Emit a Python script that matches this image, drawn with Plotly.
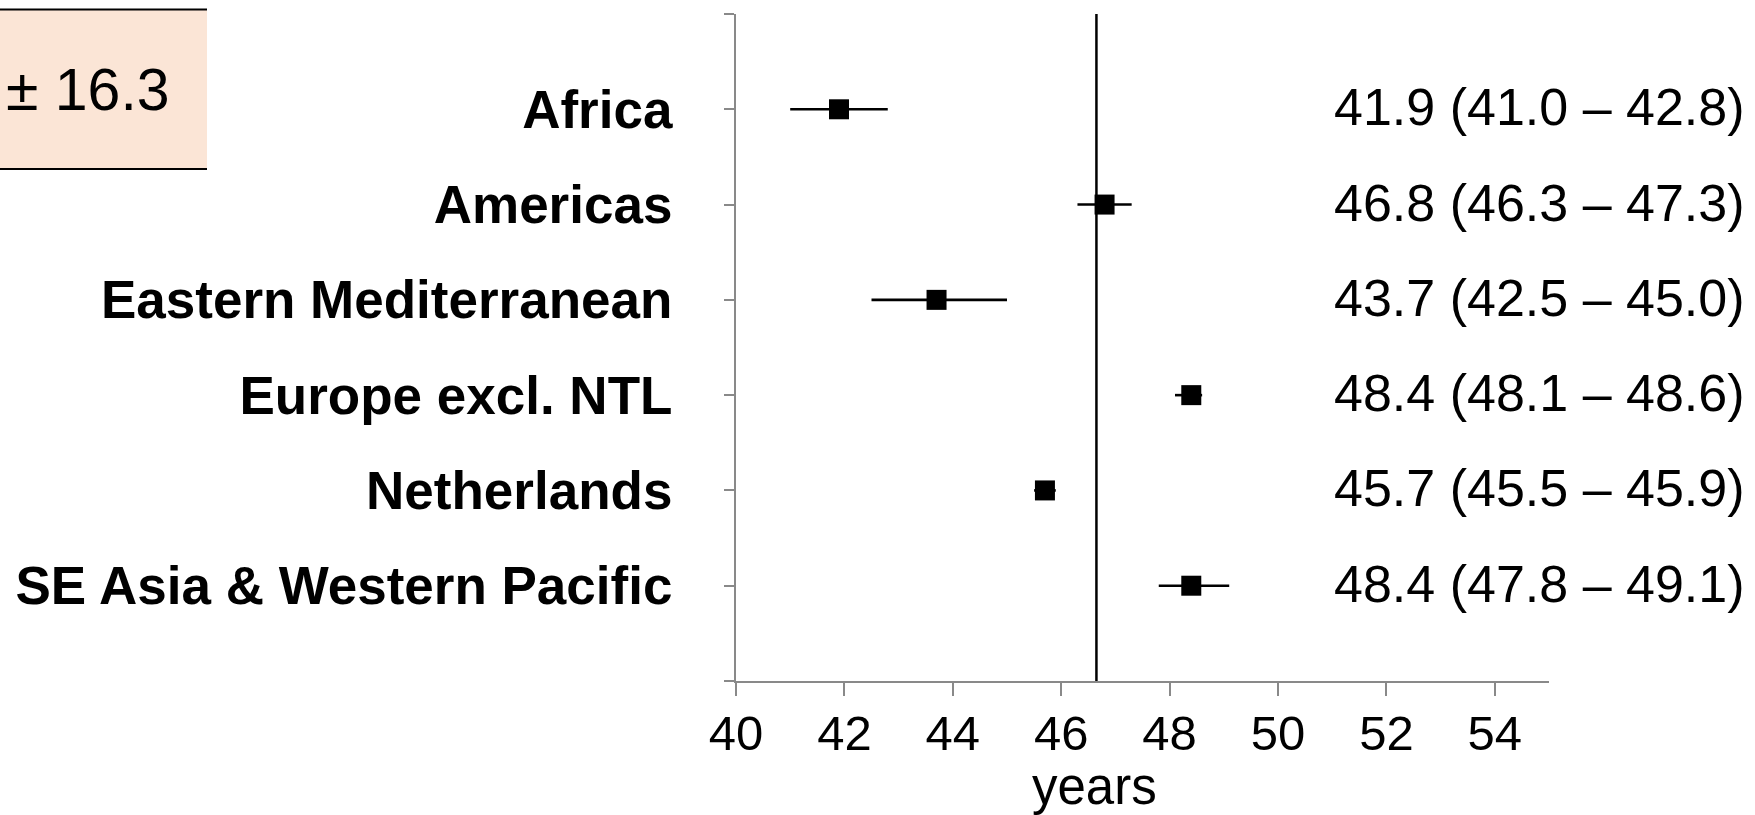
import plotly.graph_objects as go

# Mean age per WHO region with 95% confidence interval
regions = [
    "Africa",
    "Americas",
    "Eastern Mediterranean",
    "Europe excl. NTL",
    "Netherlands",
    "SE Asia & Western Pacific",
]
mean_age = [41.9, 46.8, 43.7, 48.4, 45.7, 48.4]
ci_low = [41.0, 46.3, 42.5, 48.1, 45.5, 47.8]
ci_high = [42.8, 47.3, 45.0, 48.6, 45.9, 49.1]
overall_mean = 46.65
sd_label = "± 16.3"
x_ticks = [40, 42, 44, 46, 48, 50, 52, 54]

W, H = 1755, 815
L, R, T, B = 736, 206, 14, 134
FONT = "Liberation Sans, Arial, sans-serif"
AXIS_GRAY = "#898989"


def px_x(p):
    return (p - L) / (W - L - R)


def px_y(p):
    return (H - B - p) / (H - T - B)


ypos = list(range(1, len(regions) + 1))
err_plus = [round(h - m, 2) for h, m in zip(ci_high, mean_age)]
err_minus = [round(m - l, 2) for m, l in zip(mean_age, ci_low)]

fig = go.Figure()
fig.add_trace(
    go.Scatter(
        x=mean_age,
        y=ypos,
        mode="markers",
        marker=dict(symbol="square", size=20, color="black"),
        error_x=dict(
            type="data",
            symmetric=False,
            array=err_plus,
            arrayminus=err_minus,
            color="black",
            thickness=2.6,
            width=0,
        ),
        cliponaxis=False,
        showlegend=False,
    )
)

# overall mean reference line
fig.add_shape(
    type="line",
    xref="x",
    yref="y",
    x0=overall_mean,
    x1=overall_mean,
    y0=0,
    y1=len(regions) + 1,
    line=dict(color="black", width=2.5),
    layer="below",
)

# value / CI labels on the right
for y, m, lo, hi in zip(ypos, mean_age, ci_low, ci_high):
    fig.add_annotation(
        text=f"{m:.1f} ({lo:.1f} – {hi:.1f})",
        xref="paper",
        yref="y",
        x=px_x(1747),
        y=y,
        yshift=2,
        xanchor="right",
        yanchor="middle",
        showarrow=False,
        font=dict(family=FONT, size=52, color="black"),
    )

# SD box in the upper left
fig.add_shape(
    type="rect",
    xref="paper",
    yref="paper",
    x0=px_x(-5),
    x1=px_x(207),
    y0=px_y(169),
    y1=px_y(9),
    fillcolor="#FBE5D6",
    line=dict(width=0),
    layer="below",
)
for yy in (9.5, 169):
    fig.add_shape(
        type="line",
        xref="paper",
        yref="paper",
        x0=px_x(-5),
        x1=px_x(207),
        y0=px_y(yy),
        y1=px_y(yy),
        line=dict(color="black", width=2),
    )
fig.add_annotation(
    text=sd_label,
    xref="paper",
    yref="paper",
    x=px_x(4),
    y=px_y(90),
    xanchor="left",
    yanchor="middle",
    showarrow=False,
    font=dict(family=FONT, size=59, color="black"),
)

# x-axis title
fig.add_annotation(
    text="years",
    xref="paper",
    yref="paper",
    x=px_x(1094),
    y=px_y(786),
    xanchor="center",
    yanchor="middle",
    showarrow=False,
    font=dict(family=FONT, size=51, color="black"),
)

fig.update_xaxes(
    range=[40, 55],
    tickvals=x_ticks,
    showline=True,
    linecolor=AXIS_GRAY,
    linewidth=2,
    ticks="outside",
    ticklen=13,
    tickwidth=1.5,
    tickcolor=AXIS_GRAY,
    showgrid=False,
    zeroline=False,
    tickfont=dict(family=FONT, size=49, color="black"),
    ticklabelstandoff=-5,
)
fig.update_yaxes(
    range=[len(regions) + 1, 0],
    tickvals=list(range(0, len(regions) + 2)),
    ticktext=[""] + [f"<b>{r}</b>" for r in regions] + [""],
    showline=True,
    linecolor=AXIS_GRAY,
    linewidth=2,
    ticks="outside",
    ticklen=10,
    tickwidth=1.5,
    tickcolor=AXIS_GRAY,
    showgrid=False,
    zeroline=False,
    tickfont=dict(family=FONT, size=53, color="black"),
    ticklabelstandoff=41,
)

fig.update_layout(
    width=W,
    height=H,
    margin=dict(l=L, r=R, t=T, b=B, autoexpand=False),
    paper_bgcolor="white",
    plot_bgcolor="white",
    font=dict(family=FONT, color="black"),
)

fig.write_html("out.html", config={"displayModeBar": False})
